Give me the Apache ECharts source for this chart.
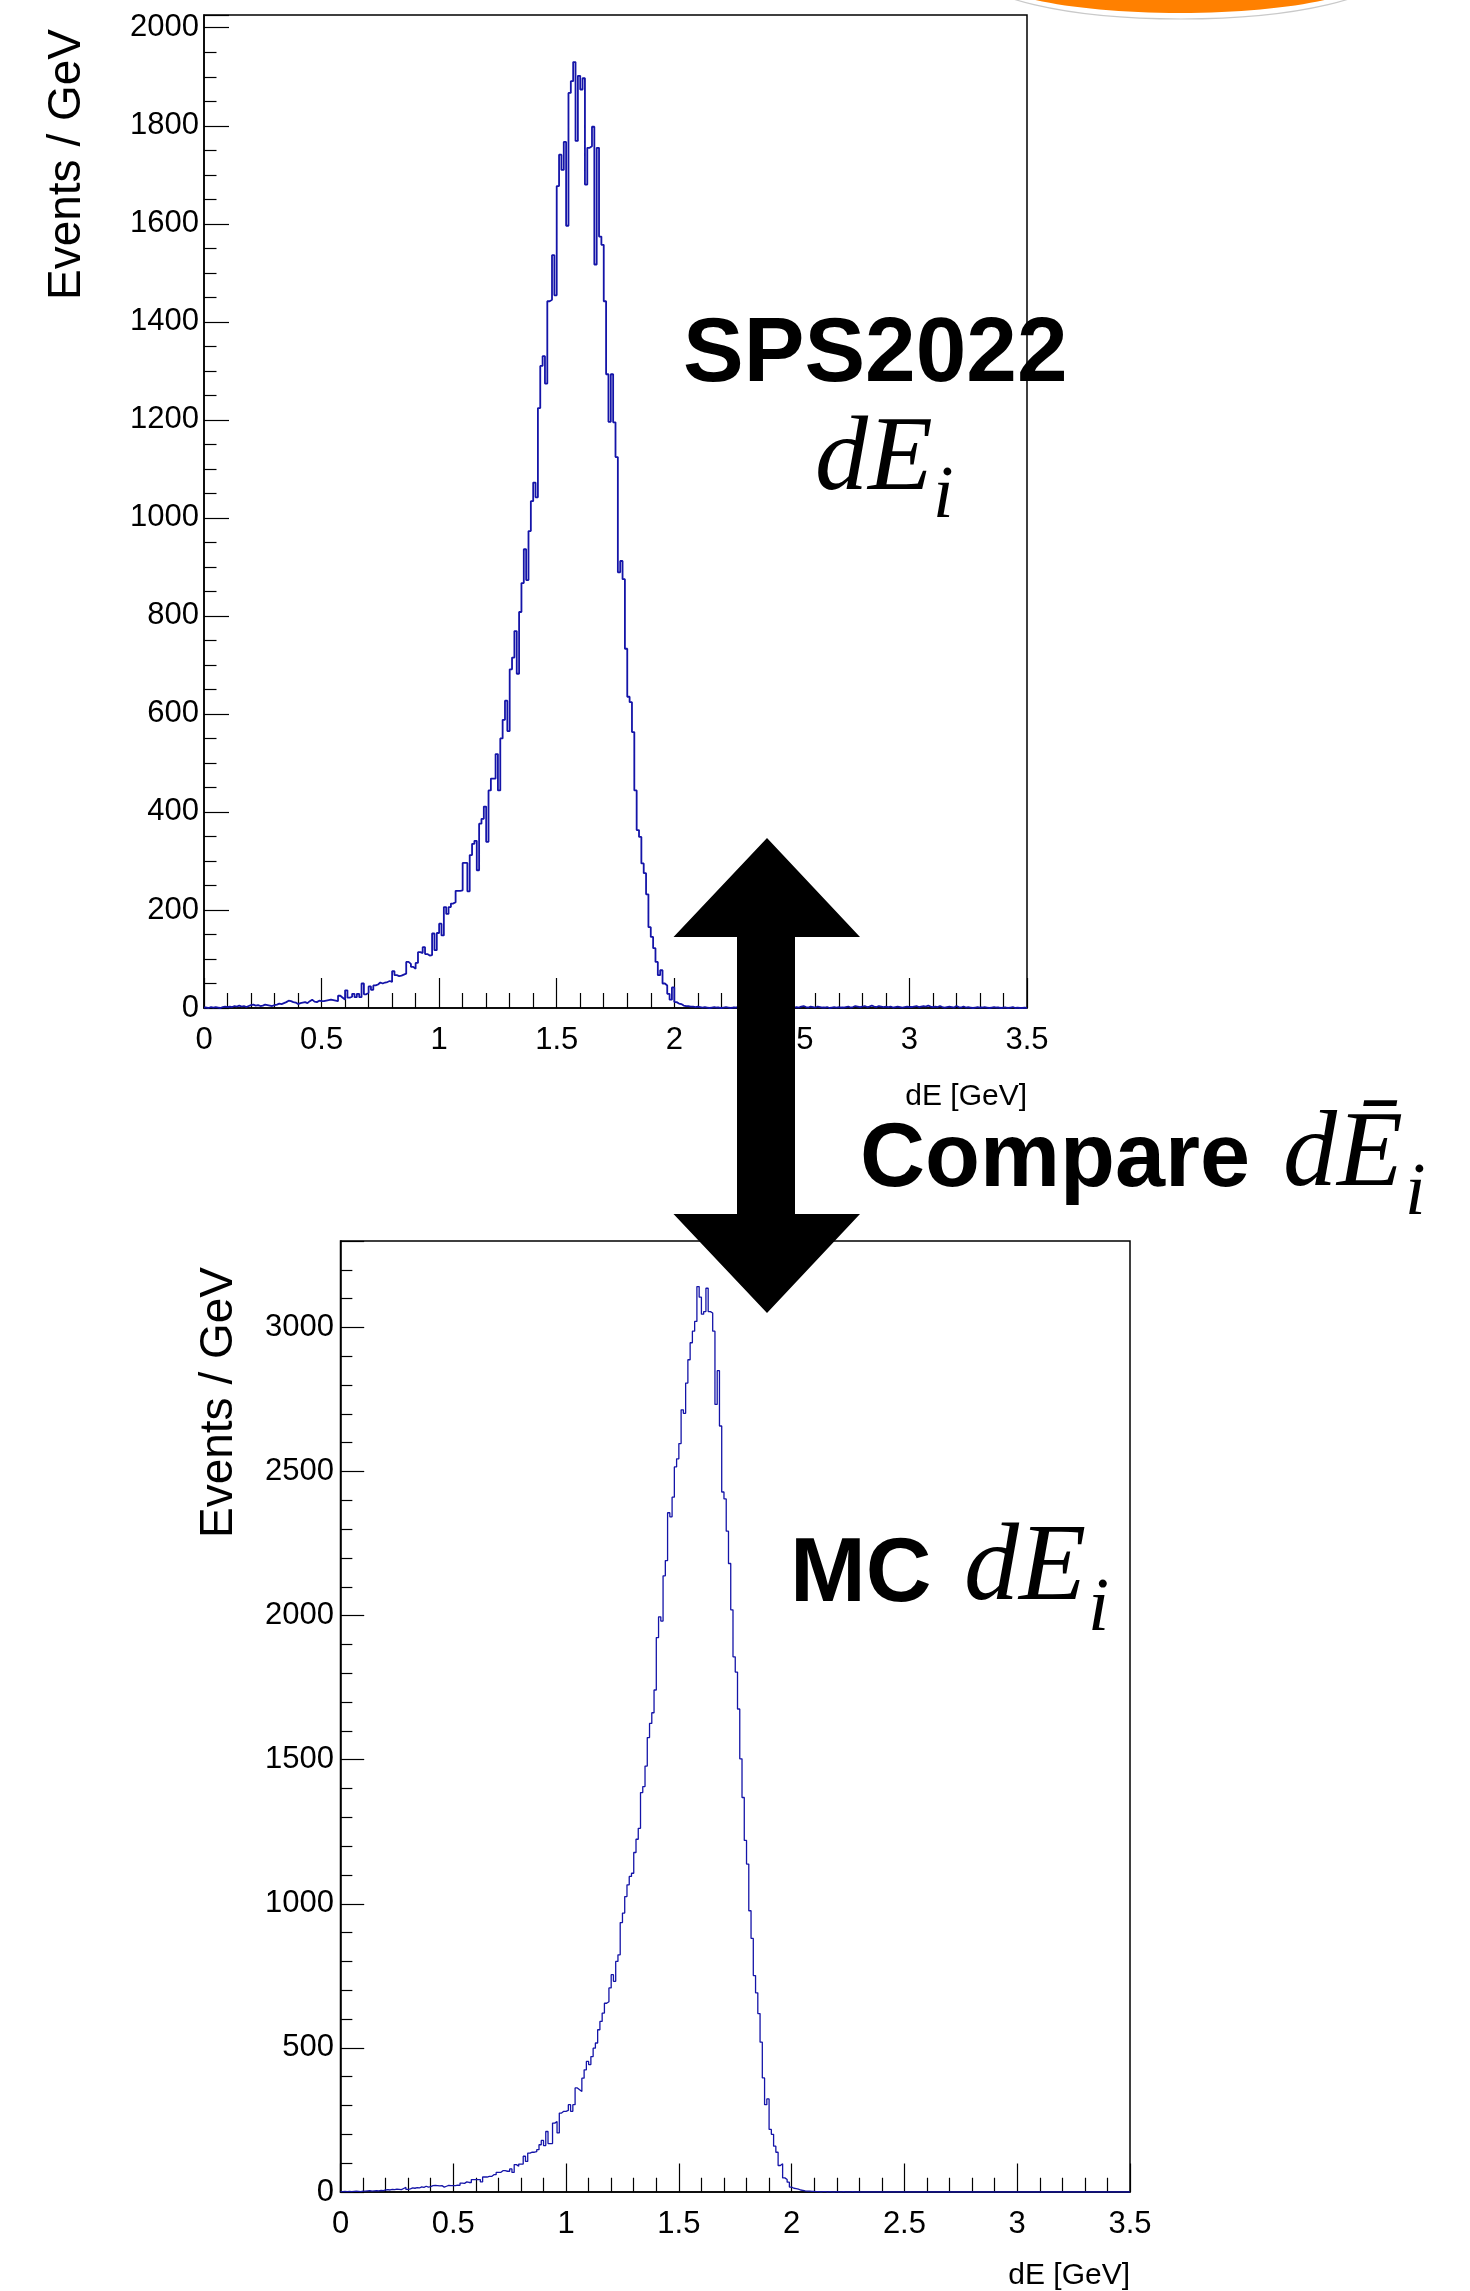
<!DOCTYPE html>
<html>
<head>
<meta charset="utf-8">
<title>dE comparison: SPS2022 vs MC</title>
<script src="https://cdn.jsdelivr.net/npm/echarts@6/dist/echarts.min.js"></script>
<style>
  html, body { margin: 0; padding: 0; background: #ffffff; }
  #main { width: 1470px; height: 2291px; }
</style>
</head>
<body>
<div id="main"></div>
<script>
// Histogram binning: 350 bins of 0.01 GeV from 0 to 3.5 GeV
const binWidth = 0.01;
const xMin = 0;
const xMax = 3.5;

// Axis tick labels
const xTickValues = [0, 0.5, 1, 1.5, 2, 2.5, 3, 3.5];
const yTickValuesData = [0, 200, 400, 600, 800, 1000, 1200, 1400, 1600, 1800, 2000];
const yTickValuesMC = [0, 500, 1000, 1500, 2000, 2500, 3000];

// SPS2022 test-beam dE, events per bin (bins 0..349)
const spsCounts = [
  1, 0, 2, 1, 2, 1, 0, 2, 3, 2,
  3, 2, 4, 3, 5, 3, 4, 2, 4, 6,
  7, 5, 6, 4, 5, 7, 6, 5, 4, 6,
  7, 9, 8, 10, 12, 15, 14, 12, 11, 8,
  10, 11, 12, 10, 14, 17, 13, 12, 15, 14,
  14, 15, 16, 17, 16, 15, 14, 25, 21, 17,
  36, 21, 23, 29, 22, 29, 22, 50, 28, 31,
  44, 37, 46, 48, 52, 50, 52, 53, 55, 53,
  75, 67, 65, 66, 68, 70, 94, 90, 84, 80,
  92, 114, 112, 124, 110, 107, 108, 152, 118, 153,
  172, 148, 206, 192, 206, 213, 216, 239, 239, 240,
  296, 296, 238, 312, 335, 341, 281, 376, 386, 411,
  339, 444, 468, 468, 518, 444, 550, 588, 627, 565,
  691, 715, 769, 682, 808, 867, 936, 873, 973, 1034,
  1072, 1042, 1224, 1310, 1330, 1274, 1442, 1445, 1536, 1454,
  1677, 1741, 1710, 1767, 1596, 1867, 1891, 1930, 1769, 1902,
  1874, 1897, 1680, 1755, 1758, 1798, 1517, 1755, 1574, 1557,
  1442, 1293, 1196, 1293, 1195, 1124, 889, 912, 875, 733,
  635, 624, 563, 444, 363, 349, 295, 275, 232, 165,
  145, 122, 94, 67, 77, 50, 46, 29, 17, 42,
  12, 9, 8, 5, 4, 4, 3, 3, 2, 3,
  2, 1, 2, 1, 0, 1, 2, 1, 1, 0,
  1, 2, 1, 0, 1, 1, 2, 1, 0, 1,
  1, 0, 2, 1, 1, 0, 1, 2, 1, 1,
  0, 1, 1, 2, 1, 0, 1, 1, 2, 1,
  1, 2, 1, 3, 4, 2, 1, 3, 2, 1,
  3, 2, 1, 1, 2, 0, 1, 2, 1, 2,
  1, 1, 2, 3, 1, 2, 4, 3, 2, 3,
  4, 2, 3, 5, 3, 2, 4, 3, 2, 3,
  2, 3, 1, 2, 3, 2, 1, 2, 3, 2,
  2, 3, 4, 2, 3, 4, 3, 5, 3, 2,
  3, 2, 4, 2, 1, 2, 3, 2, 1, 4,
  2, 1, 3, 1, 2, 1, 0, 1, 2, 1,
  1, 2, 1, 0, 1, 2, 1, 1, 0, 1,
  1, 0, 1, 2, 0, 1, 0, 0, 1, 0
];

// Monte Carlo dE, events per bin (bins 0..349)
const mcCounts = [
  1, 2, 1, 2, 1, 2, 3, 2, 1, 3,
  3, 4, 5, 3, 4, 5, 4, 6, 5, 7,
  8, 7, 9, 8, 10, 9, 8, 12, 16, 9,
  11, 14, 13, 15, 14, 18, 16, 20, 17, 19,
  22, 23, 22, 21, 22, 17, 20, 23, 22, 22,
  22, 24, 23, 31, 30, 35, 33, 33, 43, 43,
  43, 43, 35, 52, 52, 54, 54, 60, 60, 68,
  68, 74, 74, 72, 72, 80, 68, 95, 89, 97,
  97, 124, 106, 135, 138, 138, 140, 147, 164, 179,
  161, 210, 168, 168, 239, 245, 205, 274, 280, 280,
  283, 303, 280, 303, 361, 355, 349, 395, 424, 453,
  442, 470, 499, 517, 563, 592, 621, 655, 660, 708,
  754, 731, 800, 823, 935, 968, 1025, 1066, 1095, 1106,
  1178, 1224, 1262, 1386, 1407, 1478, 1577, 1626, 1663, 1742,
  1924, 1996, 1981, 2138, 2191, 2357, 2343, 2411, 2516, 2544,
  2597, 2714, 2702, 2807, 2888, 2947, 2987, 3021, 3142, 3105,
  3046, 3055, 3136, 3055, 3050, 2987, 2733, 2850, 2658, 2429,
  2405, 2293, 2181, 2020, 1857, 1804, 1676, 1503, 1369, 1220,
  1138, 976, 880, 751, 691, 619, 520, 396, 303, 323,
  217, 200, 159, 138, 92, 98, 49, 43, 34, 17,
  13, 12, 10, 7, 6, 4, 3, 3, 2, 2,
  1, 1, 0, 1, 1, 0, 1, 0, 0, 1,
  0, 0, 1, 0, 0, 0, 1, 0, 0, 0,
  0, 0, 0, 0, 0, 0, 0, 0, 0, 0,
  0, 0, 0, 0, 0, 0, 0, 0, 0, 0,
  0, 0, 0, 0, 0, 0, 0, 0, 0, 0,
  0, 0, 0, 0, 0, 0, 0, 0, 0, 0,
  0, 0, 0, 0, 0, 0, 0, 0, 0, 0,
  0, 0, 0, 0, 0, 0, 0, 0, 0, 0,
  0, 0, 0, 0, 0, 0, 0, 0, 0, 0,
  0, 0, 0, 0, 0, 0, 0, 0, 0, 0,
  0, 0, 0, 0, 0, 0, 0, 0, 0, 0,
  0, 0, 0, 0, 0, 0, 0, 0, 0, 0,
  0, 0, 0, 0, 0, 0, 0, 0, 0, 0,
  0, 0, 0, 0, 0, 0, 0, 0, 0, 0
];

// Turn bin contents into step-line vertices at the low bin edges,
// closing the last bin at the upper edge of the range.
function histogramPoints(counts) {
  const pts = counts.map((c, i) => [+(xMin + i * binWidth).toFixed(2), c]);
  pts.push([xMax, counts[counts.length - 1]]);
  return pts;
}

const HIST_COLOR = '#1414a8';
const SANS = 'Liberation Sans, Arial, Helvetica, sans-serif';
const SERIF = 'Liberation Serif, Times New Roman, serif';
const plainNumber = (v) => String(v);

function xAxisFor(gridIndex, tickLen) {
  return {
    type: 'value', gridIndex: gridIndex,
    min: xMin, max: xMax, interval: xTickValues[1] - xTickValues[0],
    name: 'dE [GeV]', nameLocation: 'end', nameGap: 0,
    nameTextStyle: {
      fontFamily: SANS, fontSize: 30, color: '#000',
      align: 'right', verticalAlign: 'top', padding: [gridIndex === 0 ? 74 : 69, 0, 0, 0]
    },
    axisLine: { show: true, onZero: false, lineStyle: { color: '#000', width: 1.5 } },
    axisTick: { show: true, inside: true, length: tickLen, lineStyle: { color: '#000', width: 1.2 } },
    minorTick: { show: true, splitNumber: 5, length: tickLen / 2, lineStyle: { color: '#000', width: 1.2 } },
    splitLine: { show: false }, minorSplitLine: { show: false },
    axisLabel: {
      show: true, customValues: xTickValues, margin: 17, formatter: plainNumber,
      fontFamily: SANS, fontSize: 31, color: '#000', hideOverlap: false
    }
  };
}

function yAxisFor(gridIndex, ticks, yMax, minorSplit, tickLen, nameGap, namePad, labelMargin) {
  return {
    type: 'value', gridIndex: gridIndex,
    min: 0, max: yMax, interval: ticks[1] - ticks[0],
    name: 'Events / GeV', nameLocation: 'end', nameGap: nameGap, nameRotate: 90,
    nameTextStyle: {
      fontFamily: SANS, fontSize: 46, color: '#000',
      align: 'right', verticalAlign: 'bottom', padding: [0, 0, namePad, 0]
    },
    axisLine: { show: true, onZero: false, lineStyle: { color: '#000', width: 1.5 } },
    axisTick: { show: true, inside: true, length: tickLen, lineStyle: { color: '#000', width: 1.2 } },
    minorTick: { show: true, splitNumber: minorSplit, length: tickLen / 2, lineStyle: { color: '#000', width: 1.2 } },
    splitLine: { show: false }, minorSplitLine: { show: false },
    axisLabel: {
      show: true, customValues: ticks, margin: labelMargin, formatter: plainNumber,
      fontFamily: SANS, fontSize: 31, color: '#000', hideOverlap: false
    }
  };
}

const chart = echarts.init(document.getElementById('main'), null, { renderer: 'canvas', width: 1470, height: 2291 });

chart.setOption({
  animation: false,
  backgroundColor: '#ffffff',
  grid: [
    { left: 204, top: 15, width: 823, height: 993, show: true, borderColor: '#000', borderWidth: 1.5, containLabel: false },
    { left: 340.5, top: 1241, width: 789.5, height: 951.5, show: true, borderColor: '#000', borderWidth: 1.5, containLabel: false }
  ],
  xAxis: [ xAxisFor(0, 30), xAxisFor(1, 28.5) ],
  yAxis: [
    yAxisFor(0, yTickValuesData, 2026, 4, 25, -14, 114, 5),
    yAxisFor(1, yTickValuesMC, 3300, 5, 23.7, -26, 98, 6.5)
  ],
  series: [
    {
      name: 'SPS2022', type: 'line', xAxisIndex: 0, yAxisIndex: 0,
      step: 'end', showSymbol: false, symbol: 'none', clip: true,
      lineStyle: { color: HIST_COLOR, width: 1.8 },
      data: histogramPoints(spsCounts)
    },
    {
      name: 'MC', type: 'line', xAxisIndex: 1, yAxisIndex: 1,
      step: 'end', showSymbol: false, symbol: 'none', clip: true,
      lineStyle: { color: HIST_COLOR, width: 1.3 },
      data: histogramPoints(mcCounts)
    }
  ],
  graphic: [
    // orange badge peeking in at the top edge
    { type: 'ellipse', z: 90, shape: { cx: 1181, cy: -30, rx: 208, ry: 49 },
      style: { fill: '#ffffff', stroke: '#c9c9c9', lineWidth: 1.2 } },
    { type: 'ellipse', z: 91, shape: { cx: 1180, cy: -27, rx: 196, ry: 40 },
      style: { fill: '#ff8000' } },

    // double-headed comparison arrow
    { type: 'polygon', z: 100,
      shape: { points: [
        [767, 838], [860, 937], [795, 937], [795, 1214], [860, 1214],
        [767, 1313], [673.5, 1214], [737, 1214], [737, 937], [673.5, 937]
      ] },
      style: { fill: '#000000' } },

    // SPS2022 dE_i label
    { type: 'text', z: 100, x: 683, y: 356,
      style: { text: 'SPS2022', fontFamily: SANS, fontWeight: 'bold', fontSize: 91,
               fill: '#000', align: 'left', verticalAlign: 'middle' } },
    { type: 'text', z: 100, x: 815, y: 461,
      style: { text: 'dE', fontFamily: SERIF, fontStyle: 'italic', fontSize: 106,
               fill: '#000', align: 'left', verticalAlign: 'middle' } },
    { type: 'text', z: 100, x: 933, y: 498,
      style: { text: 'i', fontFamily: SERIF, fontStyle: 'italic', fontSize: 74,
               fill: '#000', align: 'left', verticalAlign: 'middle' } },

    // Compare label with mean dE
    { type: 'text', z: 100, x: 860, y: 1161,
      style: { text: 'Compare', fontFamily: SANS, fontWeight: 'bold', fontSize: 90,
               fill: '#000', align: 'left', verticalAlign: 'middle' } },
    { type: 'text', z: 100, x: 1283, y: 1157,
      style: { text: 'd\u0112', fontFamily: SERIF, fontStyle: 'italic', fontSize: 108,
               fill: '#000', align: 'left', verticalAlign: 'middle' } },
    { type: 'text', z: 100, x: 1405, y: 1195,
      style: { text: 'i', fontFamily: SERIF, fontStyle: 'italic', fontSize: 74,
               fill: '#000', align: 'left', verticalAlign: 'middle' } },

    // MC dE_i label
    { type: 'text', z: 100, x: 790, y: 1576,
      style: { text: 'MC', fontFamily: SANS, fontWeight: 'bold', fontSize: 91,
               fill: '#000', align: 'left', verticalAlign: 'middle' } },
    { type: 'text', z: 100, x: 964, y: 1570,
      style: { text: 'dE', fontFamily: SERIF, fontStyle: 'italic', fontSize: 110,
               fill: '#000', align: 'left', verticalAlign: 'middle' } },
    { type: 'text', z: 100, x: 1088, y: 1610,
      style: { text: 'i', fontFamily: SERIF, fontStyle: 'italic', fontSize: 76,
               fill: '#000', align: 'left', verticalAlign: 'middle' } }
  ]
});
</script>
</body>
</html>
